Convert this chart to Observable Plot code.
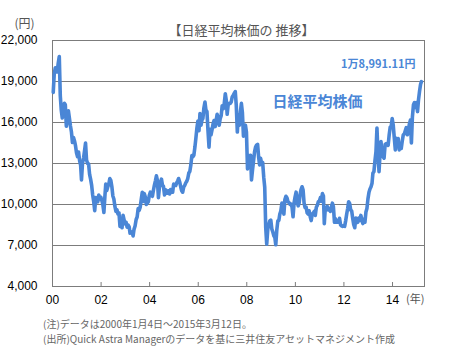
<!DOCTYPE html>
<html><head><meta charset="utf-8">
<script src="https://cdn.jsdelivr.net/npm/d3@7"></script>
<script src="https://cdn.jsdelivr.net/npm/@observablehq/plot@0.6"></script>
<style>
body{margin:0;background:#fff;font-family:"Liberation Sans",Arial,sans-serif;}
#chart svg{display:block}
.note{font-family:"Noto Sans CJK JP",sans-serif;font-size:10px;color:#666;line-height:15px;padding-left:43px;margin-top:11px;white-space:nowrap}
</style></head><body>
<div id="chart"></div>
<div class="note">(注)データは2000年1月4日～2015年3月12日。<br>(出所)Quick Astra Managerのデータを基に三井住友アセットマネジメント作成</div>
<script>
// Semi-monthly readings (mid-month, month-end) of the Nikkei 225, yen
const v2000 = [18200,19540, 20000,19960, 19700,20337, 20833,17973, 16900,16332, 17000,17411, 17300,15727, 16300,16861, 16300,15747, 15300,14539, 14900,14649, 14300,13786];
const v2001 = [13500,13844, 13200,12884, 11800,12999, 13400,13934, 14500,13262, 13000,12969, 12200,11860, 11400,10714, 10200,9550, 10500,10366, 10200,10697, 10400,10543];
const v2002 = [10300,9997, 9420,10588, 11500,11025, 11300,11493, 11900,11764, 11300,10622, 10400,9877, 9500,9619, 9300,9383, 8400,8640, 8300,9216, 8900,8579];
const v2003 = [8700,8340, 8500,8363, 7900,7973, 8000,7700, 8200,8425, 8900,9083, 9700,9563, 9800,10344, 10900,10219, 10800,10560, 10000,10101, 10200,10677];
const v2004 = [10900,10784, 10600,11041, 11400,11715, 12100,11762, 10500,11236, 11600,11858, 11400,11326, 10700,11082, 11000,10824, 11000,10771, 11100,10899, 10900,11489];
const v2005 = [11400,11388, 11600,11740, 11900,11668, 11300,11009, 10900,11277, 11400,11584, 11700,11900, 12300,12414, 12900,13574, 13500,13607, 14200,14872, 15600,16111];
const v2006 = [15400,16650, 15800,16205, 16300,17060, 17500,16906, 16800,15467, 14200,15505, 15100,15457, 15900,16141, 15700,16128, 16600,16399, 15800,16274, 16500,17226];
const v2007 = [17000,17383, 18100,17604, 16600,17288, 17400,17400, 17500,17876, 18000,18138, 18262,17249, 15300,16569, 15800,16786, 17400,16738, 15000,15681, 15800,15308];
const v2008 = [12600,13592, 13100,13603, 11800,12526, 13200,13850, 14200,14339, 14400,13481, 12900,13377, 13000,13073, 12000,11260, 8300,7100, 8200,8512, 8800,8860];
const v2009 = [8200,7994, 7700,7568, 7054,8110, 8800,8828, 9300,9523, 10100,9958, 9300,10357, 10600,10493, 10200,10133, 10000,10035, 9800,9100, 10100,10546];
const v2010 = [10900,10198, 9900,10126, 10700,11090, 11300,11057, 10100,9769, 9800,9383, 9300,9537, 9100,8824, 9300,9369, 9500,9202, 9800,9937, 10200,10229];
const v2011 = [10500,10238, 10800,10624, 8600,9755, 9600,9850, 9600,9694, 9500,9816, 10100,9833, 8700,8955, 8700,8700, 8700,8988, 8500,8435, 8400,8455];
const v2012 = [8400,8803, 9300,9723, 10200,10084, 9600,9521, 9000,8543, 8300,9007, 8800,8695, 9000,8840, 9200,8870, 8600,8928, 8700,9446, 9700,10395];
const v2013 = [10900,11139, 11300,11559, 12300,12398, 13200,13861, 15600,13775, 12400,13677, 14600,13668, 13500,13389, 14400,14456, 14400,14328, 15100,15662, 15700,16291];
const v2014 = [15800,14915, 14000,14841, 14400,14828, 14000,14304, 14100,14632, 15100,15162, 15400,15621, 15100,15425, 15900,16174, 14500,16414, 17300,17460, 17100,17451];
const v2015 = [16800,17674, 18300,18798, 18991.11];

const years = [2000,2001,2002,2003,2004,2005,2006,2007,2008,2009,2010,2011,2012,2013,2014,2015];
const yearValues = [v2000,v2001,v2002,v2003,v2004,v2005,v2006,v2007,v2008,v2009,v2010,v2011,v2012,v2013,v2014,v2015];

const yTicks = [4000,7000,10000,13000,16000,19000,22000];
const xTickYears = [2000,2002,2004,2006,2008,2010,2012,2014];
const xDomainYears = [[2000,0,1],[2015,3,27]];

const titleText = "【日経平均株価の 推移】";
const yUnit = "(円)";
const xUnit = "(年)";
const seriesName = "日経平均株価";
const lastLabel = "1万8,991.11円";

const data = [];
years.forEach((yr, k) => {
  yearValues[k].forEach((v, i) => {
    data.push({date: new Date(Date.UTC(yr, Math.floor(i / 2), i % 2 ? 27 : 12)), value: v});
  });
});
const xTickDates = xTickYears.map(y => new Date(Date.UTC(y, 0, 1)));

const gray = "#7c7c7c";
const blue = "#4a86d6";
const cjk = "'Noto Sans CJK JP', sans-serif";

const chart = Plot.plot({
  width: 451, height: 305,
  marginLeft: 52, marginRight: 27, marginTop: 40, marginBottom: 19,
  style: {fontFamily: "'Liberation Sans', Arial, sans-serif", fontSize: "12px", color: "#000", background: "#fff", overflow: "visible"},
  x: {type: "utc", domain: xDomainYears.map(a => new Date(Date.UTC(...a))), label: null},
  y: {domain: [4000, 22000], label: null},
  marks: [
    Plot.gridY(yTicks, {stroke: gray, strokeOpacity: 1}),
    Plot.frame({stroke: gray}),
    Plot.ruleX(xTickDates, {stroke: gray, insetTop: 242}),
    Plot.line(data, {x: "date", y: "value", stroke: blue, strokeWidth: 3.6, strokeLinejoin: "round"}),
    Plot.axisY(yTicks, {tickSize: 0, tickPadding: 15, tickFormat: d3.format(",")}),
    Plot.axisX(xTickDates, {tickSize: 0, tickPadding: 9, tickFormat: d3.utcFormat("%y")}),
    Plot.text([titleText], {text: d => d, frameAnchor: "top", textAnchor: "middle", dx: 3, dy: -15, fill: "#555", fontSize: 13, fontFamily: cjk}),
    Plot.text([yUnit], {text: d => d, frameAnchor: "top-left", textAnchor: "middle", dx: -28, dy: -21, fill: "#555", fontSize: 12, fontFamily: cjk}),
    Plot.text([xUnit], {text: d => d, frameAnchor: "bottom-right", textAnchor: "end", dx: 0, dy: 16, fill: "#555", fontSize: 11, fontFamily: cjk}),
    Plot.text([lastLabel], {text: d => d, frameAnchor: "top-right", textAnchor: "end", dx: -9, dy: 20, fill: blue, fontSize: 11, fontWeight: "bold", fontFamily: cjk}),
    Plot.text([seriesName], {text: d => d, frameAnchor: "top-right", textAnchor: "middle", dx: -107, dy: 56, fill: blue, fontSize: 15, fontWeight: "bold", fontFamily: cjk})
  ]
});
document.getElementById("chart").appendChild(chart);
</script>
</body></html>
